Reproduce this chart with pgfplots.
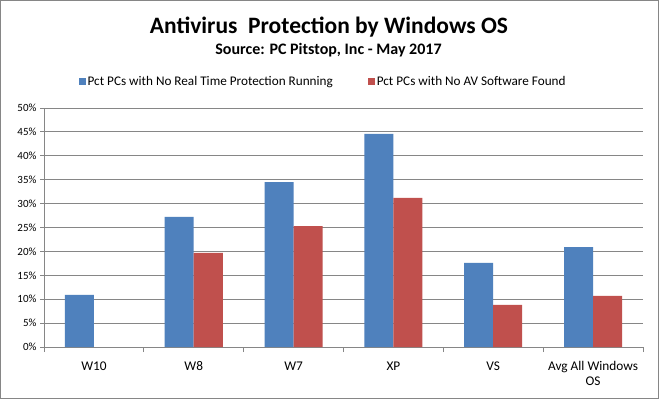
\documentclass[border=0pt]{standalone}
\usepackage{pgfplots}
\pgfplotsset{compat=1.18}
\usepackage{fontspec}
\setmainfont{Carlito}
\definecolor{xblue}{HTML}{4F81BD}
\definecolor{xred}{HTML}{C0504D}
\definecolor{xgray}{HTML}{868686}
\begin{document}
\begin{tikzpicture}
\useasboundingbox (0pt,0pt) rectangle (659pt,399pt);
\fill[white] (0pt,0pt) rectangle (659pt,399pt);
\draw[xgray, line width=1pt] (0.5pt,0.5pt) rectangle (658.5pt,398.5pt);
\node[anchor=base, font=\bfseries\fontsize{23.5}{28}\selectfont] at (329pt,365pt) {Antivirus\ \ Protection by Windows OS};
\node[anchor=base, font=\bfseries\fontsize{16}{19}\selectfont] at (328.5pt,344pt) {Source: PC Pitstop, Inc - May 2017};
\begin{axis}[at={(44pt,52pt)}, anchor=south west, scale only axis, width=599pt, height=239pt,
  ybar=0pt, bar width=29pt, xmin=-0.5, xmax=5.5, ymin=0, ymax=50,
  axis lines*=left, axis line style={xgray, line width=0.8pt},
  xtick={0,...,5}, xticklabels={{\strut W10},{\strut W8},{\strut W7},{\strut XP},{\strut VS},{\strut Avg All Windows\\\strut OS}},
  xticklabel style={align=center, anchor=north, font=\fontsize{13.3}{15}\selectfont, yshift=-5pt},
  major x tick style={draw=none},
  minor xtick={-0.5,0.5,1.5,2.5,3.5,4.5,5.5}, minor tick length=5pt,
  minor x tick style={xgray, line width=0.8pt},
  tick align=outside,
  ytick={0,5,...,50}, major tick length=4pt,
  yticklabel={\pgfmathprintnumber{\tick}\%},
  yticklabel style={font=\fontsize{11}{14}\selectfont},
  /pgf/number format/assume math mode=true,
  y tick style={xgray, line width=0.8pt},
  ymajorgrids, grid style={xgray, line width=0.8pt},
  legend columns=2,
  legend style={draw=none, fill=none, at={(0.466,1.109)}, anchor=center, font=\fontsize{13.2}{15}\selectfont,
    /tikz/every even column/.append style={column sep=33pt},
    /tikz/every odd column/.append style={column sep=0pt}},
]
\addplot[fill=xblue, draw=none, legend image code/.code={\fill[xblue] (0pt,-3.5pt) rectangle (7pt,3.5pt);}]
  coordinates {(0,10.9) (1,27.2) (2,34.5) (3,44.6) (4,17.6) (5,20.9)};
\addlegendentry{Pct PCs with No Real Time Protection Running}
\addplot[fill=xred, draw=none, legend image code/.code={\fill[xred] (0pt,-3.5pt) rectangle (7pt,3.5pt);}]
  coordinates {(1,19.7) (2,25.3) (3,31.2) (4,8.8) (5,10.7)};
\addlegendentry{Pct PCs with No AV Software Found}
\end{axis}
\end{tikzpicture}
\end{document}
